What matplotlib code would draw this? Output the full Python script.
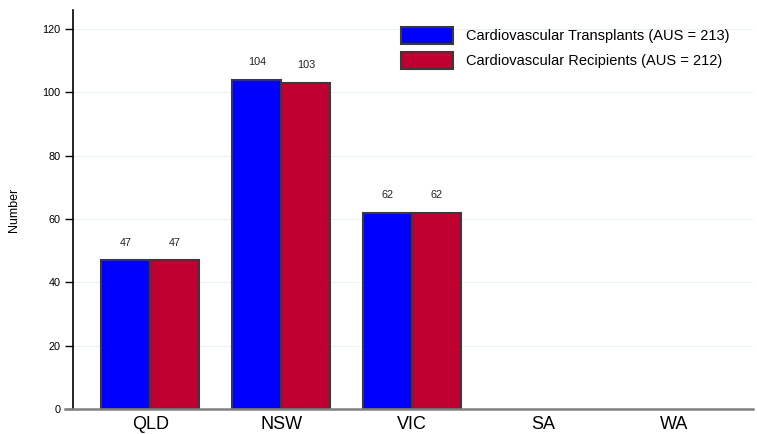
import matplotlib
matplotlib.use("Agg")
import matplotlib.pyplot as plt
import numpy as np

plt.rcParams['font.family'] = ['Liberation Sans', 'DejaVu Sans']

states = ['QLD', 'NSW', 'VIC', 'SA', 'WA']
transplants = [47, 104, 62, 0, 0]
recipients = [47, 103, 62, 0, 0]
labels = ['Cardiovascular Transplants (AUS = 213)', 'Cardiovascular Recipients (AUS = 212)']
colors = ['#0000ff', '#c00030']
yticks = [0, 20, 40, 60, 80, 100, 120]

fig = plt.figure(figsize=(7.57, 4.34), dpi=100)
ax = fig.add_axes([73/757, 25/434, 680/757, 399/434])

x = np.arange(len(states))
w = 0.375
series = [transplants, recipients]
for i, vals in enumerate(series):
    xs = x + (i - 0.5) * w
    shown = [v if v > 0 else np.nan for v in vals]
    ax.bar(xs, shown, w, color=colors[i], edgecolor='#3a3a3a', linewidth=1.5, label=labels[i], zorder=3)
    for xx, v in zip(xs, vals):
        if v > 0:
            ax.text(xx, v + 4, str(v), ha='center', va='bottom', fontsize=7.8, color='#222222')

ax.set_xlim(-0.59, 4.6)
ax.set_ylim(0, 126)
ax.set_yticks(yticks)
ax.set_xticks(x)
ax.set_xticklabels(states, fontsize=13)
ax.tick_params(axis='x', length=0, pad=5)
ax.tick_params(axis='y', length=6, width=1, labelsize=7.8, pad=3, direction='out')
for t in yticks[1:]:
    ax.axhline(t, color='#ecf2f2', linewidth=0.8, zorder=0)

for s in ['top', 'right', 'bottom']:
    ax.spines[s].set_visible(False)
ax.spines['left'].set_linewidth(1.2)
# grey baseline, starts a little left of the y axis
ax.plot([-0.65, 4.6], [0, 0], color='#808080', linewidth=1.8, clip_on=False, zorder=4)

ax.set_ylabel('Number', fontsize=9, labelpad=16)

leg = ax.legend(loc='upper right', bbox_to_anchor=(0.985, 0.99), fontsize=10.5, frameon=False,
                handlelength=3.6, handleheight=1.4, handletextpad=0.9, labelspacing=0.55)

plt.savefig('out.png', dpi=100)
